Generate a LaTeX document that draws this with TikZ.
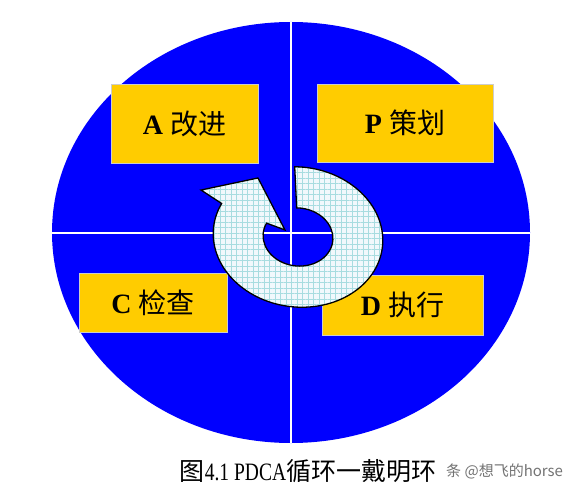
\documentclass[tikz,border=0pt]{standalone}
\usepackage{fontspec}
\setmainfont{Liberation Serif}
\newfontfamily\cjk{Noto Sans CJK SC}
\newfontfamily\capfont[FakeStretch=0.78]{Liberation Serif}
\usetikzlibrary{patterns.meta}
\definecolor{pdcablue}{HTML}{0000FF}
\definecolor{pdcayellow}{HTML}{FFCC00}
\definecolor{gridcyan}{HTML}{A8DCE0}
\definecolor{ringwhite}{HTML}{F2F8FC}

\tikzset{
	stagebox/.style={draw=white!80!black,line width=0.8pt,fill=pdcayellow,inner sep=0pt,
		font=\fontsize{28}{30}\selectfont},
	ringarrow/.style={draw=black,line width=1.3pt,preaction={fill=ringwhite},
		pattern={Hatch[angle=0,distance=5.5pt,line width=0.5pt]},pattern color=gridcyan},
	axisline/.style={draw=white,line width=1.6pt}
}

% the turning arrow, in its own tilted frame
\newcommand\pdcaring{(-98:85 and 70)
	arc[start angle=-98,end angle=200,x radius=85,y radius=70]
	-- (-102.0,-34.8) -- (-46.9,-53.7) -- (-13.8,-5.4) -- (200:35 and 29)
	arc[start angle=200,end angle=-98,x radius=35,y radius=29] -- cycle}

\begin{document}
\begin{tikzpicture}[x=1pt,y=-1pt]
	\useasboundingbox (0,0) rectangle (578,497);

	% disc and its two axes
	\fill[pdcablue] (291,232.5) ellipse [x radius=239,y radius=210.5];
	\coordinate (west) at (52,233);
	\coordinate (east) at (530,233);
	\coordinate (north) at (291,22);
	\coordinate (south) at (291,443);
	\draw[axisline] (west) -- (east);
	\draw[axisline] (north) -- (south);

	% the four stages
	\node[stagebox,minimum width=147pt,minimum height=79pt] (act) at (184.5,123.5)
		{\textbf{A}~{\cjk 改进}};
	\node[stagebox,minimum width=176pt,minimum height=78pt] (plan) at (405,123)
		{\textbf{P}~{\cjk 策划}};
	\node[stagebox,minimum width=148pt,minimum height=59pt] (check) at (153,302.5)
		{\textbf{C}~{\cjk 检查}};
	\node[stagebox,minimum width=161pt,minimum height=60pt] (do) at (402.5,305)
		{\textbf{D}~{\cjk 执行}};

	\begin{scope}[shift={(298,237)},rotate=-7]
		\path[ringarrow] \pdcaring;
	\end{scope}

	% caption
	\node[inner sep=0pt] (caption) at (308,471)
		{{\cjk\fontsize{25}{25}\selectfont 图}{\capfont\fontsize{25}{25}\selectfont 4.1 PDCA}{\cjk\fontsize{25}{25}\selectfont 循环一戴明环}};
	\node[inner sep=0pt,anchor=west,text=black!55,font=\cjk\fontsize{15}{15}\selectfont] (mark) at (446,471)
		{条 @想飞的horse};
\end{tikzpicture}
\end{document}
